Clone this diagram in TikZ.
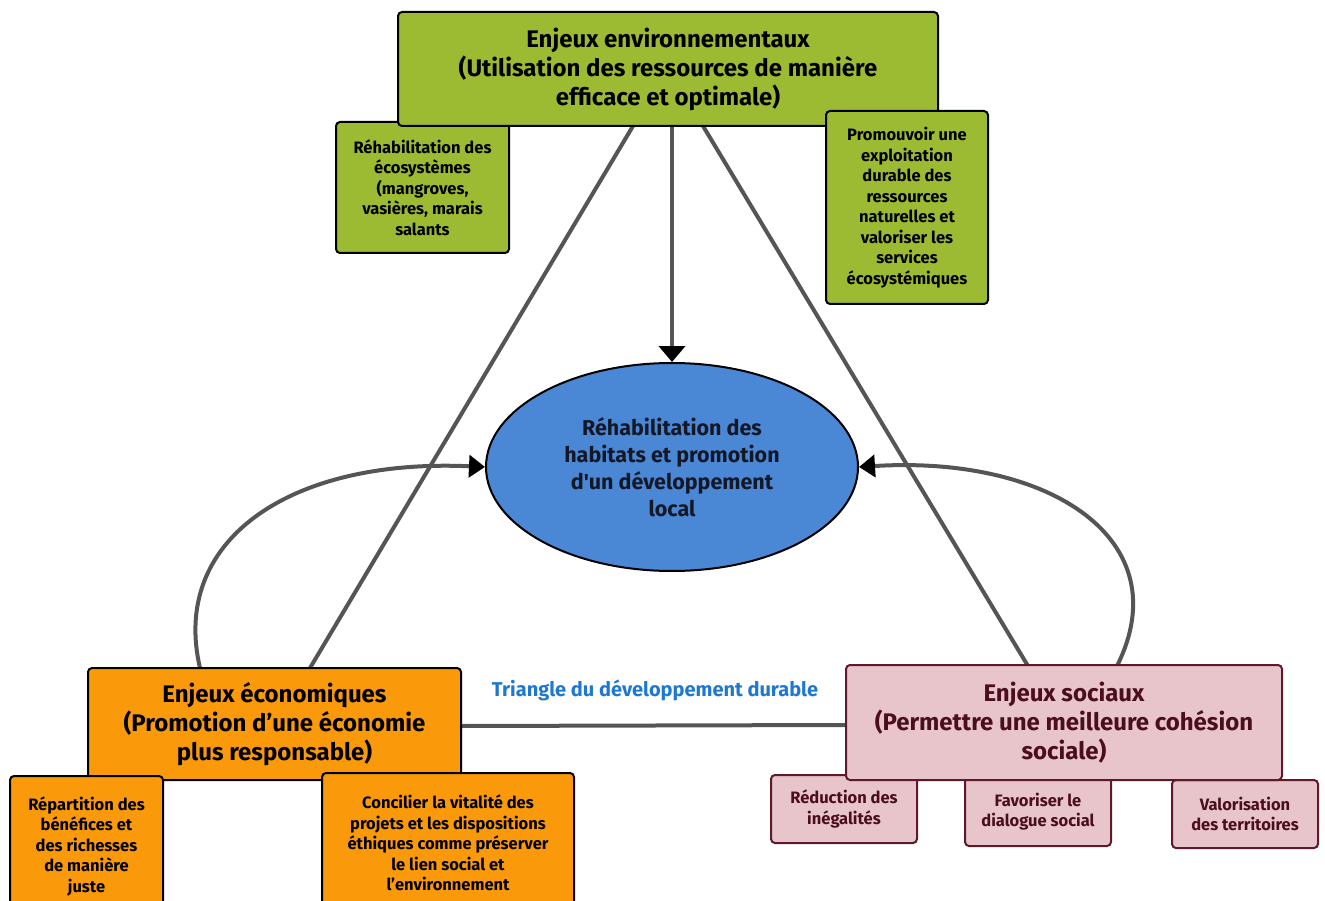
\documentclass[tikz,border=0pt]{standalone}
\usepackage{fontspec}
\setmainfont{Fira Sans}
\usetikzlibrary{arrows.meta,shapes.geometric}
\definecolor{envg}{HTML}{9DBB32}
\definecolor{ecoo}{HTML}{FA9A0A}
\definecolor{socp}{HTML}{E8C5CB}
\definecolor{socb}{HTML}{5E1A2A}
\definecolor{soct}{HTML}{4B0E1E}
\definecolor{ellb}{HTML}{4A87D5}
\definecolor{ellt}{HTML}{141826}
\definecolor{lblb}{HTML}{1E78D2}
\definecolor{lineg}{HTML}{555555}
\tikzset{
  mainbox/.style={draw=black, line width=2pt, rounded corners=4pt, align=center, inner sep=0pt,
    font=\fontsize{24}{29}\selectfont\bfseries},
  subbox/.style={draw=black, line width=2pt, rounded corners=4pt, align=center, inner sep=0pt,
    font=\fontsize{16.5}{20.5}\selectfont\bfseries},
  socsub/.style={subbox, draw=socb, fill=socp, text=soct},
  tri/.style={draw=lineg, line width=4pt},
  loop/.style={draw=lineg, line width=4pt, -{Triangle[length=16pt,width=22pt,color=black]}},
}
\begin{document}
\begin{tikzpicture}[x=1pt,y=-1pt]
\useasboundingbox (0,0) rectangle (1325,901);
% triangle lines
\coordinate (tl) at (633,126);
\coordinate (tr) at (703,126);
\coordinate (bl) at (310,668);
\coordinate (br) at (1028,666);
\draw[tri] (tl) -- (bl);
\draw[tri] (tr) -- (br);
\draw[tri] (461,726) -- (846,725);
% ellipse
\node[ellipse, draw=black, line width=2pt, fill=ellb, minimum width=372pt, minimum height=208pt,
  align=center, inner sep=0pt, font=\fontsize{21.5}{27}\selectfont\bfseries, text=ellt]
  (ell) at (672,467) {Réhabilitation des\\habitats et promotion\\d\textquotesingle un développement\\local};
% loops
\coordinate (ls) at (200,668);
\coordinate (rs) at (1117,666);
\draw[loop] (ls) .. controls (170,540) and (290,458) .. (ell.west);
\draw[loop] (rs) .. controls (1180,540) and (1050,455) .. (ell.east);
% green sub left
\node[subbox, fill=envg, minimum width=173pt, minimum height=131pt] (g1) at (422.5,187.5)
  {Réhabilitation des\\écosystèmes\\(mangroves,\\vasières, marais\\salants};
% env box
\node[mainbox, fill=envg, minimum width=540pt, minimum height=114pt] (env) at (668,69)
  {Enjeux environnementaux\\(Utilisation des ressources de manière\\efficace et optimale)};
\node[subbox, fill=envg, minimum width=162pt, minimum height=193pt] (g2) at (907,207.5)
  {Promouvoir une\\exploitation\\durable des\\ressources\\naturelles et\\valoriser les\\services\\écosystémiques};
% arrow to ellipse
\draw[line width=4pt, draw=lineg, -{Triangle[length=16pt,width=26pt,color=black]}] (env.south -| ell.north) -- (ell.north);
% econ
\node[mainbox, fill=ecoo, minimum width=373pt, minimum height=112pt] (eco) at (274.5,724)
  {Enjeux économiques\\(Promotion d’une économie\\plus responsable)};
\node[subbox, fill=ecoo, minimum width=153pt, minimum height=140pt] (e1) at (86.5,846)
  {Répartition des\\bénéfices et\\des richesses\\de manière\\juste};
\node[subbox, fill=ecoo, minimum width=252pt, minimum height=140pt] (e2) at (448,843)
  {Concilier la vitalité des\\projets et les dispositions\\éthiques comme préserver\\le lien social et\\l’environnement};
% social subs
\node[socsub, minimum width=146pt, minimum height=68pt] (s1) at (844,809) {Réduction des\\inégalités};
\node[socsub, minimum width=146pt, minimum height=69pt] (s2) at (1038,811.5) {Favoriser le\\dialogue social};
\node[socsub, minimum width=146pt, minimum height=68pt] (s3) at (1245,814) {Valorisation\\des territoires};
\node[mainbox, draw=socb, fill=socp, text=soct, minimum width=436pt, minimum height=115pt] (soc) at (1064,722.5)
  {Enjeux sociaux\\(Permettre une meilleure cohésion\\sociale)};
% label
\node[font=\fontsize{20}{24}\selectfont\bfseries, text=lblb] (lbl) at (655,690) {Triangle du développement durable};
\end{tikzpicture}
\end{document}
